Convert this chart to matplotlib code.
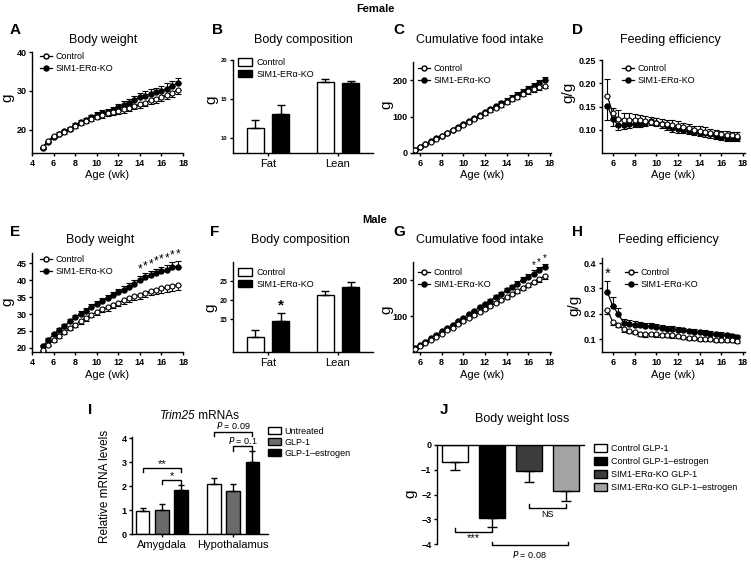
import numpy as np
import matplotlib
matplotlib.use('Agg')
import matplotlib.pyplot as plt
from matplotlib.lines import Line2D
from matplotlib.patches import Patch

plt.rcParams['font.family'] = ['Liberation Sans', 'DejaVu Sans']

# ---------------- data ----------------
wk_bw = np.arange(5, 17.75, 0.5)          # body weight weeks (26 points)
wk_fi = np.arange(5.5, 17.75, 0.5)        # food intake / efficiency weeks (25 points)

# Female body weight (A)
f_bw_ctrl = [15.5, 17.2, 18.3, 19.0, 19.5, 20.2, 21.0, 21.6, 22.2, 22.8, 23.3, 23.8, 24.2,
             24.5, 24.8, 25.2, 25.5, 26.0, 26.5, 27.0, 27.6, 28.0, 28.4, 28.9, 29.4, 30.3]
f_bw_ctrl_err = [0.4, 0.4, 0.4, 0.4, 0.5, 0.5, 0.5, 0.5, 0.6, 0.6, 0.6, 0.7, 0.7,
                 0.7, 0.7, 0.8, 0.8, 0.8, 0.9, 0.9, 0.9, 1.0, 1.0, 1.0, 1.1, 1.1]
f_bw_ko = [15.2, 16.8, 18.0, 18.9, 19.6, 20.3, 21.2, 21.9, 22.5, 23.2, 23.8, 24.3, 24.6,
           25.1, 25.8, 26.4, 27.0, 27.6, 28.3, 28.8, 29.2, 29.6, 30.0, 30.6, 31.3, 32.0]
f_bw_ko_err = [0.3, 0.3, 0.4, 0.4, 0.4, 0.5, 0.5, 0.5, 0.6, 0.6, 0.7, 0.7, 0.8,
               0.8, 0.9, 0.9, 1.0, 1.0, 1.1, 1.1, 1.2, 1.2, 1.2, 1.3, 1.3, 1.3]

# Female body composition (B)
comp_groups = ['Fat', 'Lean']
f_comp_ctrl = [11.2, 17.2]
f_comp_ctrl_err = [1.1, 0.35]
f_comp_ko = [13.0, 17.0]
f_comp_ko_err = [1.2, 0.3]

# Female cumulative food intake (C)
f_fi_ctrl = [8, 16, 24, 31, 39, 47, 55, 62, 70, 78, 86, 94, 101, 109, 117, 124, 132,
             140, 147, 155, 162, 169, 175, 180, 185]
f_fi_ctrl_err = [0.5, 0.8, 1, 1, 1.5, 1.5, 2, 2, 2.5, 2.5, 3, 3, 3.5, 3.5, 4, 4, 4.5,
                 5, 5, 5.5, 6, 6, 6.5, 7, 7]
f_fi_ko = [8, 16, 24, 32, 40, 48, 56, 64, 72, 80, 88, 96, 104, 112, 120, 128, 136,
           144, 152, 160, 168, 176, 184, 192, 200]
f_fi_ko_err = [0.5, 0.8, 1, 1, 1.5, 1.5, 2, 2, 2.5, 2.5, 3, 3, 3.5, 4, 4.5, 5, 5.5,
               6, 6.5, 7, 7.5, 8, 8.5, 9, 9]

# Female feeding efficiency (D)
f_fe_ctrl = [0.172, 0.135, 0.123, 0.122, 0.122, 0.121, 0.120, 0.118, 0.117, 0.115, 0.113,
             0.112, 0.110, 0.108, 0.105, 0.103, 0.100, 0.098, 0.096, 0.094, 0.092, 0.090,
             0.089, 0.088, 0.087]
f_fe_ctrl_err = [0.038, 0.012, 0.020, 0.015, 0.013, 0.012, 0.012, 0.011, 0.011, 0.011,
                 0.011, 0.010, 0.010, 0.010, 0.010, 0.009, 0.009, 0.009, 0.009, 0.008,
                 0.008, 0.008, 0.008, 0.008, 0.008]
f_fe_ko = [0.152, 0.123, 0.110, 0.110, 0.112, 0.113, 0.113, 0.115, 0.118, 0.115, 0.112,
           0.108, 0.104, 0.102, 0.100, 0.098, 0.096, 0.094, 0.092, 0.090, 0.087, 0.085,
           0.083, 0.082, 0.082]
f_fe_ko_err = [0.030, 0.015, 0.010, 0.008, 0.008, 0.008, 0.008, 0.008, 0.008, 0.008,
               0.008, 0.008, 0.008, 0.008, 0.008, 0.008, 0.007, 0.007, 0.007, 0.007,
               0.007, 0.007, 0.007, 0.007, 0.007]

# Male body weight (E)
m_bw_ctrl = [19.5, 21.0, 22.3, 23.5, 24.8, 25.8, 26.8, 27.8, 28.8, 29.8, 30.6, 31.4, 32.0,
             32.8, 33.4, 34.0, 34.6, 35.2, 35.7, 36.2, 36.7, 37.2, 37.6, 37.9, 38.3, 38.6]
m_bw_ctrl_err = [0.4, 0.4, 0.5, 0.5, 0.6, 0.6, 0.7, 0.7, 0.8, 0.8, 0.9, 0.9, 1.0,
                 1.0, 1.0, 1.1, 1.1, 1.1, 1.2, 1.2, 1.2, 1.3, 1.3, 1.3, 1.4, 1.4]
m_bw_ko = [20.5, 22.3, 24.0, 25.3, 26.5, 27.8, 29.0, 30.0, 31.0, 32.0, 33.0, 33.8, 34.6,
           35.5, 36.4, 37.2, 38.0, 38.8, 40.0, 40.8, 41.5, 42.1, 42.6, 43.0, 43.8, 44.0]
m_bw_ko_err = [0.4, 0.5, 0.5, 0.6, 0.6, 0.7, 0.7, 0.8, 0.8, 0.9, 0.9, 1.0, 1.0,
               1.0, 1.1, 1.1, 1.2, 1.2, 1.2, 1.3, 1.3, 1.3, 1.4, 1.4, 1.4, 1.5]
m_bw_star_wk = [14, 14.5, 15, 15.5, 16, 16.5, 17, 17.5]

# Male body composition (F)
m_comp_ctrl = [10.5, 21.4]
m_comp_ctrl_err = [1.8, 1.0]
m_comp_ko = [14.5, 23.6]
m_comp_ko_err = [2.2, 1.3]

# Male cumulative food intake (G)
m_fi_ctrl = [9, 17, 26, 34, 43, 51, 60, 68, 77, 85, 94, 102, 111, 119, 128, 136, 145,
             153, 162, 170, 179, 187, 195, 202, 210]
m_fi_ctrl_err = [0.5, 0.8, 1, 1, 1.5, 1.5, 2, 2, 2.5, 2.5, 3, 3, 3.5, 3.5, 4, 4, 4.5,
                 5, 5, 5.5, 6, 6, 6.5, 7, 7]
m_fi_ko = [10, 19, 29, 38, 48, 57, 67, 76, 86, 95, 105, 114, 124, 133, 143, 152, 162,
           171, 181, 190, 200, 209, 218, 227, 236]
m_fi_ko_err = [0.5, 0.8, 1, 1, 1.5, 1.5, 2, 2, 2.5, 2.5, 3, 3, 3.5, 4, 4.5, 5, 5.5,
               6, 6.5, 7, 7.5, 8, 8.5, 9, 9]
m_fi_star_wk = [16.5, 17, 17.5]

# Male feeding efficiency (H)
m_fe_ctrl = [0.215, 0.168, 0.158, 0.140, 0.133, 0.128, 0.122, 0.120, 0.122, 0.120, 0.118,
             0.117, 0.115, 0.113, 0.108, 0.105, 0.104, 0.102, 0.101, 0.100, 0.099, 0.098,
             0.097, 0.096, 0.095]
m_fe_ctrl_err = [0.015, 0.012, 0.010, 0.010, 0.010, 0.009, 0.009, 0.009, 0.009, 0.009,
                 0.009, 0.008, 0.008, 0.008, 0.008, 0.008, 0.008, 0.008, 0.008, 0.008,
                 0.008, 0.008, 0.008, 0.008, 0.008]
m_fe_ko = [0.285, 0.230, 0.200, 0.165, 0.160, 0.157, 0.155, 0.153, 0.152, 0.150, 0.145,
           0.142, 0.140, 0.137, 0.135, 0.132, 0.130, 0.127, 0.125, 0.122, 0.120, 0.118,
           0.115, 0.112, 0.108]
m_fe_ko_err = [0.045, 0.035, 0.022, 0.015, 0.015, 0.014, 0.014, 0.013, 0.013, 0.012,
               0.012, 0.012, 0.011, 0.011, 0.011, 0.010, 0.010, 0.010, 0.010, 0.009,
               0.009, 0.009, 0.009, 0.008, 0.008]

# Trim25 mRNA (I)
regions = ['Amygdala', 'Hypothalamus']
trt_labels = ['Untreated', 'GLP-1', 'GLP-1–estrogen']
trim_untreated = [0.97, 2.1]
trim_untreated_err = [0.12, 0.25]
trim_glp1 = [1.02, 1.8]
trim_glp1_err = [0.22, 0.3]
trim_glp1e = [1.85, 3.0]
trim_glp1e_err = [0.18, 0.45]

# Body weight loss (J)
bwl_labels = ['Control GLP-1', 'Control GLP-1–estrogen', 'SIM1-ERα-KO GLP-1',
              'SIM1-ERα-KO GLP-1–estrogen']
bwl_values = [-0.7, -2.95, -1.05, -1.85]
bwl_err = [0.3, 0.35, 0.45, 0.42]

# ---------------- layout helpers ----------------
W, H = 751, 572
fig = plt.figure(figsize=(W / 100, H / 100), dpi=100)

def add_ax(x0, y0, x1, y1):
    return fig.add_axes([x0 / W, 1 - y1 / H, (x1 - x0) / W, (y1 - y0) / H])

def ftext(x, y, s, **kw):
    return fig.text(x / W, 1 - y / H, s, **kw)

def style(ax, fs=6.5, bold=True):
    for s in ['top', 'right']:
        ax.spines[s].set_visible(False)
    for s in ['left', 'bottom']:
        ax.spines[s].set_linewidth(1.0)
    ax.tick_params(direction='out', length=2.5, width=1.0, labelsize=fs, pad=1.5)
    if bold:
        for lab in ax.get_xticklabels() + ax.get_yticklabels():
            lab.set_fontweight('bold')

KO_LABEL = 'SIM1-ERα-KO'
MS = 3.6

def line_panel(ax, x, ctrl, ctrl_err, ko, ko_err, ctrl_dir, ko_dir):
    ce = np.asarray(ctrl_err); ke = np.asarray(ko_err)
    z = np.zeros_like(ce)
    cy = [ce, z] if ctrl_dir == 'down' else [z, ce]
    ky = [ke, z] if ko_dir == 'down' else [z, ke]
    ax.errorbar(x, ko, yerr=ky, fmt='-o', color='black', mfc='black', mec='black',
                ms=MS, lw=0.9, elinewidth=0.8, capsize=2, capthick=0.8, zorder=3)
    ax.errorbar(x, ctrl, yerr=cy, fmt='-o', color='black', mfc='white', mec='black',
                ms=MS, mew=0.8, lw=0.9, elinewidth=0.8, capsize=2, capthick=0.8, zorder=4)

def line_legend(ax, x_px, y_px):
    hs = [Line2D([], [], color='black', marker='o', mfc='white', mec='black', ms=MS, lw=0.9),
          Line2D([], [], color='black', marker='o', mfc='black', mec='black', ms=MS, lw=0.9)]
    fig.legend(hs, ['Control', KO_LABEL], loc='upper left',
               bbox_to_anchor=(x_px / W, 1 - y_px / H), frameon=False, fontsize=6.5,
               handlelength=1.3, handletextpad=0.4, labelspacing=0.35, borderpad=0,
               borderaxespad=0)

def bar_panel(ax, ctrl, ctrl_err, ko, ko_err):
    x = np.arange(len(comp_groups))
    off, w = 0.18, 0.25
    ax.bar(x - off, ctrl, w, color='white', edgecolor='black', lw=1.0,
           yerr=[np.zeros(len(ctrl)), ctrl_err], capsize=3,
           error_kw=dict(elinewidth=1.0, capthick=1.0))
    ax.bar(x + off, ko, w, color='black', edgecolor='black', lw=1.0,
           yerr=[np.zeros(len(ko)), ko_err], capsize=3,
           error_kw=dict(elinewidth=1.0, capthick=1.0))
    ax.set_xticks(x)
    ax.set_xticklabels(comp_groups)
    ax.set_xlim(-0.5, 1.5)

def bar_legend(x_px, y_px):
    hs = [Patch(facecolor='white', edgecolor='black', lw=1.0),
          Patch(facecolor='black', edgecolor='black', lw=1.0)]
    fig.legend(hs, ['Control', KO_LABEL], loc='upper left',
               bbox_to_anchor=(x_px / W, 1 - y_px / H), frameon=False, fontsize=6.5,
               handlelength=1.6, handleheight=0.9, handletextpad=0.4, labelspacing=0.3,
               borderpad=0, borderaxespad=0)

TITLE_FS = 9
LETTER_FS = 11
YL_FS = 11

# ---------------- section titles ----------------
ftext(375, 9, 'Female', ha='center', va='center', fontsize=8, fontweight='bold')
ftext(375, 220, 'Male', ha='center', va='center', fontsize=8, fontweight='bold')

# ---------------- Row 1 ----------------
# A
ax = add_ax(32, 52, 183, 153)
line_panel(ax, wk_bw, f_bw_ctrl, f_bw_ctrl_err, f_bw_ko, f_bw_ko_err, 'down', 'up')
ax.set_xlim(4, 18); ax.set_xticks(range(4, 19, 2))
ax.set_ylim(14, 40); ax.set_yticks([20, 30, 40])
style(ax)
line_legend(ax, 40, 52)
ftext(10, 30, 'A', fontsize=LETTER_FS, fontweight='black', ha='left', va='center')
ftext(103, 40, 'Body weight', fontsize=TITLE_FS, ha='center', va='center')
ftext(7, 98, 'g', fontsize=YL_FS, rotation=90, ha='center', va='center')
ftext(107, 175, 'Age (wk)', fontsize=8, ha='center', va='center')

# B
ax = add_ax(233, 60, 373, 153)
bar_panel(ax, f_comp_ctrl, f_comp_ctrl_err, f_comp_ko, f_comp_ko_err)
ax.set_ylim(8, 20); ax.set_yticks([10, 15, 20])
style(ax, fs=4.2)
ax.tick_params(axis='x', labelsize=8)
for lab in ax.get_xticklabels():
    lab.set_fontweight('normal')
bar_legend(238, 58)
ftext(212, 30, 'B', fontsize=LETTER_FS, fontweight='black', ha='left', va='center')
ftext(303, 40, 'Body composition', fontsize=TITLE_FS, ha='center', va='center')
ftext(211, 100, 'g', fontsize=YL_FS, rotation=90, ha='center', va='center')

# C
ax = add_ax(413, 62, 551, 153)
line_panel(ax, wk_fi, f_fi_ctrl, f_fi_ctrl_err, f_fi_ko, f_fi_ko_err, 'down', 'up')
ax.set_xlim(5.35, 18.1); ax.set_xticks(range(6, 19, 2))
ax.set_ylim(0, 250); ax.set_yticks([0, 100, 200])
style(ax)
line_legend(ax, 418, 64)
ftext(393, 30, 'C', fontsize=LETTER_FS, fontweight='black', ha='left', va='center')
ftext(480, 40, 'Cumulative food intake', fontsize=TITLE_FS, ha='center', va='center')
ftext(386, 105, 'g', fontsize=YL_FS, rotation=90, ha='center', va='center')
ftext(482, 175, 'Age (wk)', fontsize=8, ha='center', va='center')

# D
ax = add_ax(602, 60, 745, 153)
line_panel(ax, wk_fi, f_fe_ctrl, f_fe_ctrl_err, f_fe_ko, f_fe_ko_err, 'up', 'down')
ax.set_xlim(5, 18.2); ax.set_xticks(range(6, 19, 2))
ax.set_ylim(0.05, 0.25); ax.set_yticks([0.10, 0.15, 0.20, 0.25])
ax.set_yticklabels(['0.10', '0.15', '0.20', '0.25'])
style(ax)
line_legend(ax, 622, 64)
ftext(572, 30, 'D', fontsize=LETTER_FS, fontweight='black', ha='left', va='center')
ftext(670, 40, 'Feeding efficiency', fontsize=TITLE_FS, ha='center', va='center')
ftext(568, 92, 'g/g', fontsize=YL_FS, rotation=90, ha='center', va='center')
ftext(673, 175, 'Age (wk)', fontsize=8, ha='center', va='center')

# ---------------- Row 2 ----------------
# E
ax = add_ax(32, 253, 183, 352)
line_panel(ax, wk_bw, m_bw_ctrl, m_bw_ctrl_err, m_bw_ko, m_bw_ko_err, 'down', 'up')
ax.set_xlim(4, 18); ax.set_xticks(range(4, 19, 2))
ax.set_ylim(18.8, 48); ax.set_yticks([20, 25, 30, 35, 40, 45])
style(ax)
ko_arr = np.asarray(m_bw_ko); koe_arr = np.asarray(m_bw_ko_err)
for w in m_bw_star_wk:
    i = int(np.argmin(np.abs(wk_bw - w)))
    ax.text(w, ko_arr[i] + koe_arr[i] + 0.2, '*', ha='center', va='bottom', fontsize=8.5)
line_legend(ax, 40, 255)
ftext(10, 232, 'E', fontsize=LETTER_FS, fontweight='black', ha='left', va='center')
ftext(100, 240, 'Body weight', fontsize=TITLE_FS, ha='center', va='center')
ftext(7, 302, 'g', fontsize=YL_FS, rotation=90, ha='center', va='center')
ftext(107, 375, 'Age (wk)', fontsize=8, ha='center', va='center')

# F
ax = add_ax(233, 262, 373, 352)
bar_panel(ax, m_comp_ctrl, m_comp_ctrl_err, m_comp_ko, m_comp_ko_err)
ax.set_ylim(6.5, 30); ax.set_yticks([15, 20, 25])
style(ax, fs=5)
ax.tick_params(axis='x', labelsize=8)
for lab in ax.get_xticklabels():
    lab.set_fontweight('normal')
ax.text(0 + 0.18, m_comp_ko[0] + m_comp_ko_err[0] + 0.1, '*', ha='center', va='bottom',
        fontsize=11, fontweight='bold')
bar_legend(238, 268)
ftext(210, 232, 'F', fontsize=LETTER_FS, fontweight='black', ha='left', va='center')
ftext(300, 240, 'Body composition', fontsize=TITLE_FS, ha='center', va='center')
ftext(210, 308, 'g', fontsize=YL_FS, rotation=90, ha='center', va='center')

# G
ax = add_ax(413, 262, 551, 352)
line_panel(ax, wk_fi, m_fi_ctrl, m_fi_ctrl_err, m_fi_ko, m_fi_ko_err, 'down', 'up')
ax.set_xlim(5.35, 18.1); ax.set_xticks(range(6, 19, 2))
ax.set_ylim(0, 250); ax.set_yticks([100, 200])
style(ax)
ko_arr = np.asarray(m_fi_ko); koe_arr = np.asarray(m_fi_ko_err)
for w in m_fi_star_wk:
    i = int(np.argmin(np.abs(wk_fi - w)))
    ax.text(w, ko_arr[i] + koe_arr[i] + 1, '*', ha='center', va='bottom', fontsize=7)
line_legend(ax, 418, 268)
ftext(393, 232, 'G', fontsize=LETTER_FS, fontweight='black', ha='left', va='center')
ftext(480, 240, 'Cumulative food intake', fontsize=TITLE_FS, ha='center', va='center')
ftext(386, 310, 'g', fontsize=YL_FS, rotation=90, ha='center', va='center')
ftext(482, 375, 'Age (wk)', fontsize=8, ha='center', va='center')

# H
ax = add_ax(602, 258, 745, 352)
line_panel(ax, wk_fi, m_fe_ctrl, m_fe_ctrl_err, m_fe_ko, m_fe_ko_err, 'down', 'up')
ax.set_xlim(5, 18.2); ax.set_xticks(range(6, 19, 2))
ax.set_ylim(0.05, 0.42); ax.set_yticks([0.1, 0.2, 0.3, 0.4])
style(ax)
ax.text(wk_fi[0], m_fe_ko[0] + m_fe_ko_err[0] + 0.002, '*', ha='center', va='bottom',
        fontsize=11)
line_legend(ax, 625, 268)
ftext(572, 232, 'H', fontsize=LETTER_FS, fontweight='black', ha='left', va='center')
ftext(668, 240, 'Feeding efficiency', fontsize=TITLE_FS, ha='center', va='center')
ftext(574, 305, 'g/g', fontsize=YL_FS, rotation=90, ha='center', va='center')
ftext(673, 375, 'Age (wk)', fontsize=8, ha='center', va='center')

# ---------------- Row 3 ----------------
# I
ax = add_ax(132, 437, 268, 534)
xg = np.arange(len(regions))
offs = [-0.27, 0.0, 0.27]
bw = 0.19
series = [(trim_untreated, trim_untreated_err, 'white'),
          (trim_glp1, trim_glp1_err, '#6b6b6b'),
          (trim_glp1e, trim_glp1e_err, 'black')]
for (vals, errs, col), o in zip(series, offs):
    ax.bar(xg + o, vals, bw, color=col, edgecolor='black', lw=1.0,
           yerr=[np.zeros(len(vals)), errs], capsize=2.5,
           error_kw=dict(elinewidth=1.0, capthick=1.0))
ax.set_xlim(-0.42, 1.49)
ax.set_ylim(0, 4.05); ax.set_yticks([0, 1, 2, 3, 4])
ax.set_xticks(xg); ax.set_xticklabels(regions)
style(ax)
ax.tick_params(axis='x', labelsize=8)
for lab in ax.get_xticklabels():
    lab.set_fontweight('normal')

def bracket_down(ax, x0, x1, y, leg, text, fs=7, tdy=0.03):
    ax.plot([x0, x0, x1, x1], [y - leg, y, y, y - leg], color='black', lw=1.0,
            clip_on=False)
    ax.text((x0 + x1) / 2, y + tdy, text, ha='center', va='bottom', fontsize=fs,
            clip_on=False)

bracket_down(ax, offs[0], offs[2], 2.75, 0.18, '**', fs=8, tdy=-0.05)
bracket_down(ax, offs[1], offs[2], 2.27, 0.17, '*', fs=8, tdy=-0.05)
bracket_down(ax, 1 + offs[0], 1 + offs[2], 4.25, 0.17, '$P$ = 0.09', fs=6.5, tdy=0.03)
bracket_down(ax, 1 + offs[1], 1 + offs[2], 3.66, 0.21, '$P$ = 0.1', fs=6.5, tdy=0.02)
ftext(88, 410, 'I', fontsize=LETTER_FS, fontweight='black', ha='left', va='center')
ftext(195, 416, 'Trim25', fontsize=8.5, style='italic', ha='right', va='center')
ftext(195, 416, ' mRNAs', fontsize=8.5, ha='left', va='center')
ftext(105, 486, 'Relative mRNA levels', fontsize=8.5, rotation=90, ha='center',
      va='center')
hs = [Patch(facecolor=c, edgecolor='black', lw=1.0) for c in ['white', '#6b6b6b', 'black']]
fig.legend(hs, trt_labels, loc='upper left', bbox_to_anchor=(268 / W, 1 - 427 / H),
           frameon=False, fontsize=6.5, handlelength=1.4, handleheight=0.8,
           handletextpad=0.4, labelspacing=0.2, borderpad=0, borderaxespad=0)

# J
ax = add_ax(437, 445, 584, 544)
xj = np.arange(len(bwl_values))
jcols = ['white', 'black', '#3c3c3c', '#a3a3a3']
ax.bar(xj, bwl_values, 0.7, color=jcols, edgecolor='black', lw=1.0,
       yerr=[bwl_err, np.zeros(len(bwl_err))], capsize=3.5,
       error_kw=dict(elinewidth=1.0, capthick=1.0))
ax.set_xlim(-0.49, 3.49)
ax.set_ylim(-4, 0); ax.set_yticks([0, -1, -2, -3, -4])
ax.set_xticks([])
for s in ['right', 'bottom']:
    ax.spines[s].set_visible(False)
ax.spines['left'].set_linewidth(1.0)
ax.spines['top'].set_linewidth(1.0)
ax.tick_params(direction='out', length=2.5, width=1.0, labelsize=6.5, pad=1.5)
for lab in ax.get_yticklabels():
    lab.set_fontweight('bold')

def bracket_up(ax, x0, x1, y, leg, text, fs=7, tdy=0.05):
    ax.plot([x0, x0, x1, x1], [y + leg, y, y, y + leg], color='black', lw=1.0,
            clip_on=False)
    ax.text((x0 + x1) / 2, y - tdy, text, ha='center', va='top', fontsize=fs,
            clip_on=False)

bracket_up(ax, 0, 1, -3.52, 0.15, '***', fs=8, tdy=0.02)
bracket_up(ax, 2, 3, -2.55, 0.15, 'NS', fs=6.5, tdy=0.08)
bracket_up(ax, 1, 3.05, -4.05, 0.15, '$P$ = 0.08', fs=6.5, tdy=0.15)
ftext(440, 410, 'J', fontsize=LETTER_FS, fontweight='black', ha='left', va='center')
ftext(522, 419, 'Body weight loss', fontsize=TITLE_FS, ha='center', va='center')
ftext(410, 494, 'g', fontsize=YL_FS, rotation=90, ha='center', va='center')
hs = [Patch(facecolor=c, edgecolor='black', lw=1.0) for c in jcols]
fig.legend(hs, bwl_labels, loc='upper left', bbox_to_anchor=(594 / W, 1 - 444 / H),
           frameon=False, fontsize=6.5, handlelength=1.4, handleheight=0.9,
           handletextpad=0.5, labelspacing=0.45, borderpad=0, borderaxespad=0)

fig.savefig('out.png', dpi=100)
